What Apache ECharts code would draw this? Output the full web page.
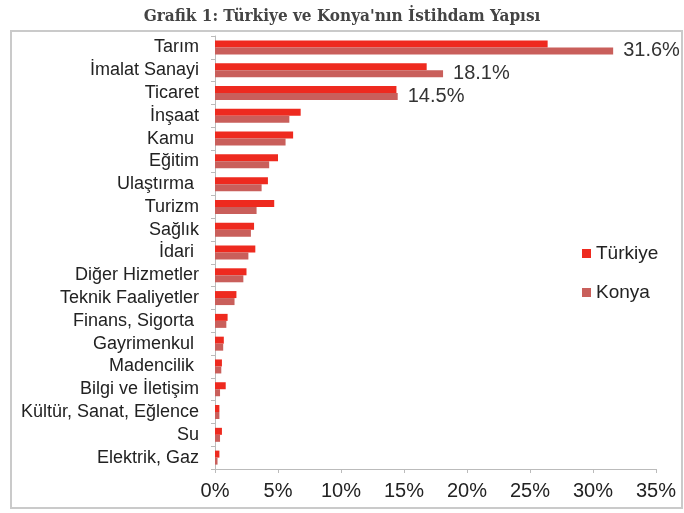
<!DOCTYPE html>
<html>
<head>
<meta charset="utf-8">
<script src="https://cdn.jsdelivr.net/npm/echarts@6/dist/echarts.min.js"></script>
<style>
html, body { margin: 0; padding: 0; background: #fff; }
#chart { width: 684px; height: 513px; }
</style>
</head>
<body>
<div id="chart"></div>
<script>
var sectors = ["Tarım", "İmalat Sanayi", "Ticaret", "İnşaat", "Kamu ", "Eğitim", "Ulaştırma ", "Turizm", "Sağlık", "İdari ",
  "Diğer Hizmetler", "Teknik Faaliyetler", "Finans, Sigorta ", "Gayrimenkul ", "Madencilik ", "Bilgi ve İletişim",
  "Kültür, Sanat, Eğlence", "Su", "Elektrik, Gaz"];
var turkiye = [26.4, 16.8, 14.4, 6.8, 6.2, 5.0, 4.2, 4.7, 3.1, 3.2, 2.5, 1.7, 1.0, 0.7, 0.55, 0.85, 0.35, 0.55, 0.35];
var konya = [31.6, 18.1, 14.5, 5.9, 5.6, 4.3, 3.7, 3.3, 2.85, 2.65, 2.25, 1.55, 0.9, 0.65, 0.5, 0.4, 0.35, 0.4, 0.2];
var labelled = 3;
var ticks = [0, 5, 10, 15, 20, 25, 30, 35];

var font = "'Liberation Sans', Arial, Helvetica, sans-serif";
var chart = echarts.init(document.getElementById("chart"));
chart.setOption({
  animation: false,
  title: {
    text: "Grafik 1: Türkiye ve Konya'nın İstihdam Yapısı",
    left: "center",
    top: 3,
    textStyle: {
      fontFamily: "'DejaVu Serif Condensed', 'DejaVu Serif', serif",
      fontWeight: "bold",
      fontSize: 17,
      color: "#444"
    }
  },
  graphic: [{
    type: "rect",
    shape: { x: 11, y: 31, width: 671, height: 477 },
    style: { fill: "none", stroke: "#cacaca", lineWidth: 2 },
    silent: true
  }],
  legend: {
    orient: "vertical",
    left: 577,
    top: 239,
    itemWidth: 9,
    itemHeight: 9,
    itemGap: 20,
    icon: "rect",
    data: ["Türkiye", "Konya"],
    textStyle: { fontFamily: font, fontSize: 19, color: "#222" }
  },
  grid: { left: 215, right: 28, top: 36, bottom: 44 },
  xAxis: {
    type: "value",
    min: ticks[0],
    max: ticks[ticks.length - 1],
    interval: 5,
    axisLine: { show: true, lineStyle: { color: "#bbb" } },
    axisTick: { show: true, length: 4, lineStyle: { color: "#bbb" } },
    splitLine: { show: false },
    axisLabel: {
      formatter: "{value}%",
      margin: 12,
      fontFamily: font,
      fontSize: 20,
      color: "#222"
    }
  },
  yAxis: {
    type: "category",
    inverse: true,
    data: sectors,
    axisLine: { show: true, lineStyle: { color: "#bbb" } },
    axisTick: { show: true, length: 4, lineStyle: { color: "#bbb" } },
    axisLabel: {
      interval: 0,
      margin: 16,
      fontFamily: font,
      fontSize: 18,
      color: "#222"
    }
  },
  series: [{
    name: "Türkiye",
    type: "bar",
    data: turkiye,
    barWidth: 7,
    barGap: "0%",
    itemStyle: { color: "#ee2a1f" }
  }, {
    name: "Konya",
    type: "bar",
    data: konya,
    barWidth: 7,
    barGap: "0%",
    itemStyle: { color: "#c95f5b" },
    label: {
      show: true,
      position: "right",
      distance: 10,
      fontFamily: font,
      fontSize: 20,
      color: "#333",
      formatter: function (p) {
        return p.dataIndex < labelled ? p.value + "%" : "";
      }
    }
  }]
});
</script>
</body>
</html>
